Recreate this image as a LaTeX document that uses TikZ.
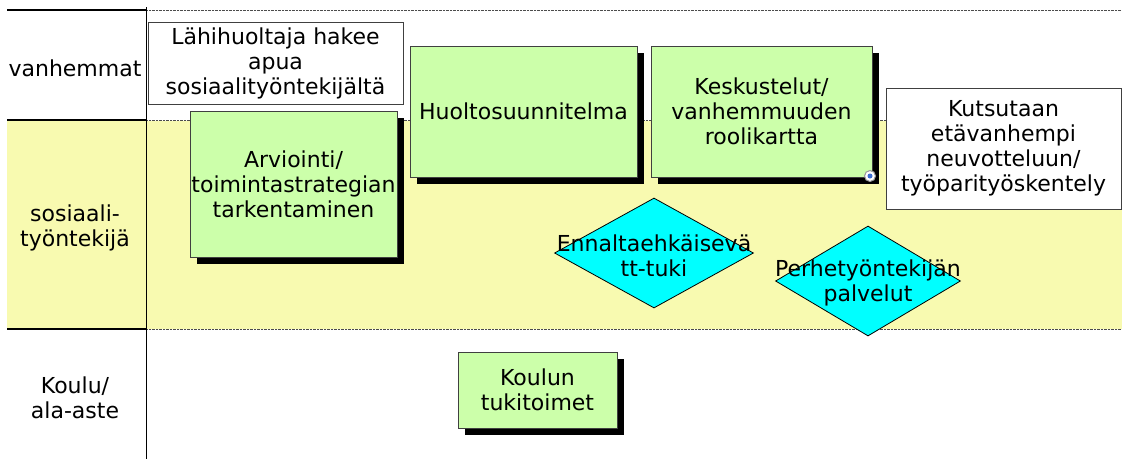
\documentclass[tikz,border=0pt]{standalone}
\usepackage{fontspec}
\setmainfont{DejaVu Sans}
\usetikzlibrary{shapes.geometric}
\usetikzlibrary{shadows}

\definecolor{lane}{RGB}{248,250,176}
\definecolor{task}{RGB}{204,255,170}
\definecolor{service}{RGB}{0,255,255}
\definecolor{linkblue}{RGB}{60,110,210}

\begin{document}
\begin{tikzpicture}[x=1pt,y=-1pt,
    every node/.style={font=\fontsize{22}{25}\selectfont, align=center},
    taskbox/.style={draw=black!75, line width=1pt, fill=task, inner sep=0pt,
      drop shadow={shadow xshift=7pt, shadow yshift=-7pt, fill=black, opacity=1}},
    notebox/.style={draw=black!75, line width=1pt, fill=white, inner sep=0pt},
    choice/.style={diamond, draw=black, line width=0.8pt, fill=service, inner sep=0pt}]

    \useasboundingbox (0,0) rectangle (1122,459);

    % lane background
    \fill[lane] (7,121) rectangle (1122,329);

    % lane lines
    \foreach \y in {10,120,329} {
      \draw[line width=1.5pt] (7,\y) -- (146,\y);
      \draw[densely dotted, black!70] (146,\y) -- (1122,\y);
    }
    \draw[line width=1pt] (146,7) -- (146,459);

    % lane labels
    \node (parents) at (75,68) {vanhemmat};
    \node (social) at (75,228) {sosiaali-\\työntekijä};
    \node (school) at (75,398) {Koulu/\\ala-aste};

    % white notes
    \node[notebox, minimum width=255pt, minimum height=82pt] (request) at (275.5,63) {Lähihuoltaja hakee\\apua\\sosiaalityöntekijältä};
    \node[notebox, minimum width=235pt, minimum height=121pt] (invite) at (1003.5,148.5) {Kutsutaan\\etävanhempi\\neuvotteluun/\\työparityöskentely};

    % green tasks
    \node[taskbox, minimum width=207pt, minimum height=146pt] (assess) at (293.5,184) {Arviointi/\\toimintastrategian\\tarkentaminen};
    \node[taskbox, minimum width=227pt, minimum height=131pt] (plan) at (523.5,111.5) {Huoltosuunnitelma};
    \node[taskbox, minimum width=221pt, minimum height=131pt] (talks) at (761.5,111.5) {Keskustelut/\\vanhemmuuden\\roolikartta};
    \node[taskbox, minimum width=159pt, minimum height=76pt] (support) at (537.5,390) {Koulun\\tukitoimet};

    % link icon
    \node[circle, draw=black!40, fill=white, line width=1pt, inner sep=0pt, minimum size=11pt] (link) at (870,176) {};
    \node[circle, fill=linkblue, inner sep=0pt, minimum size=5pt] (linkdot) at (link.center) {};

    % services
    \node[choice, minimum width=199pt, minimum height=110pt] (prevent) at (654,253) {};
    \node (preventtext) at (654,256) {Ennaltaehkäisevä\\tt-tuki};
    \node[choice, minimum width=185pt, minimum height=110pt] (family) at (868,281) {};
    \node (familytext) at (868,283) {Perhetyöntekijän\\palvelut};

\end{tikzpicture}
\end{document}
